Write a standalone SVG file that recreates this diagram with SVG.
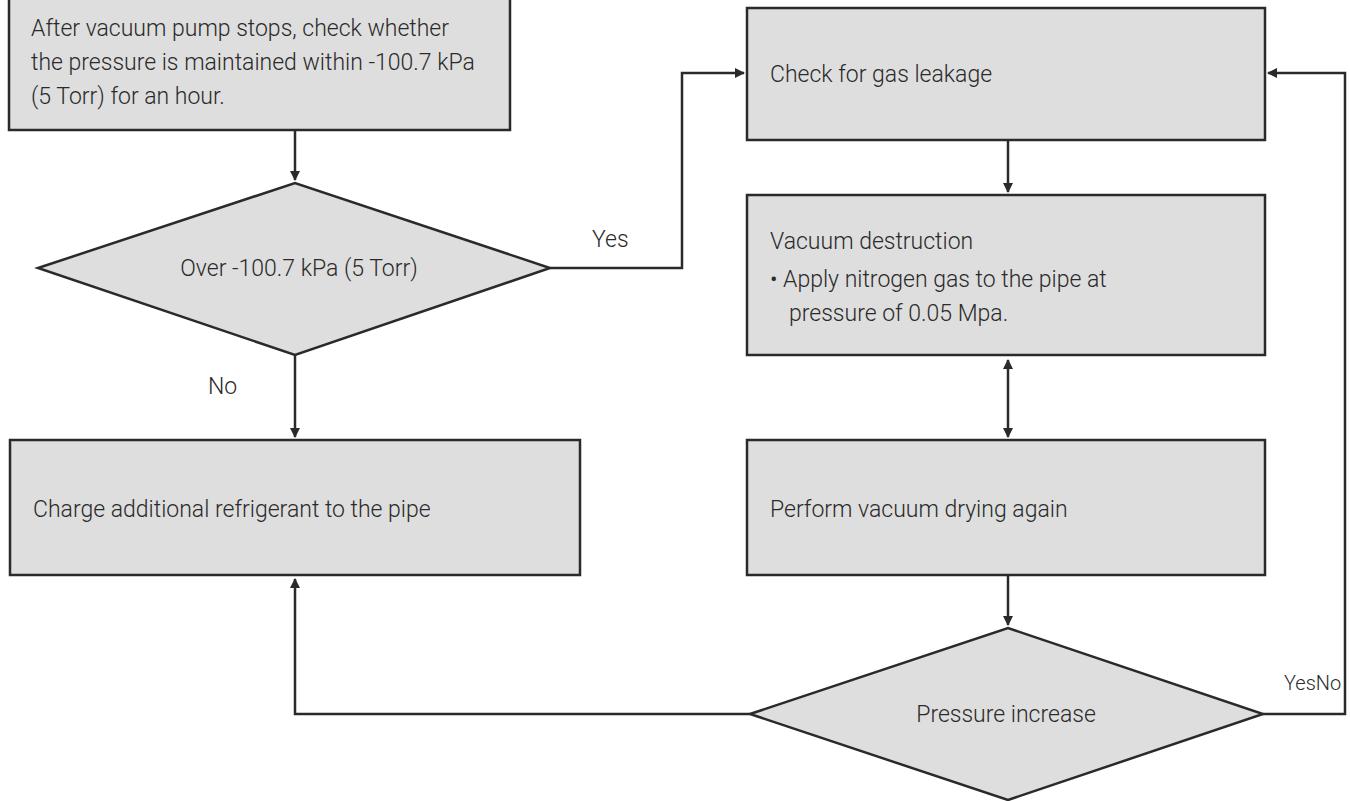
<svg xmlns="http://www.w3.org/2000/svg" width="1350" height="801" viewBox="0 0 1350 801">
<style>
.n{fill:#dedede;stroke:#2a2a2a;stroke-width:2.5}
.t{font-family:Roboto,"Liberation Sans",sans-serif;font-weight:300;font-size:23px;fill:#2a2a2a}
.c{fill:none;stroke:#2a2a2a;stroke-width:2.5}
</style>
<defs>
<marker id="a" markerWidth="10" markerHeight="10" refX="9" refY="5" orient="auto-start-reverse" markerUnits="userSpaceOnUse" viewBox="0 0 10 10"><path d="M0,0L10,5L0,10z" fill="#2a2a2a"/></marker>
</defs>
<rect width="1350" height="801" fill="#fff"/>
<g id="connectors">
<path class="c" d="M295,130V180" marker-end="url(#a)"/>
<path class="c" d="M295,355V437" marker-end="url(#a)"/>
<path class="c" d="M550,268H682V73H744" marker-end="url(#a)"/>
<path class="c" d="M1008,140V192" marker-end="url(#a)"/>
<path class="c" d="M1008,360V437" marker-start="url(#a)" marker-end="url(#a)"/>
<path class="c" d="M1008,575V625" marker-end="url(#a)"/>
<path class="c" d="M750,714H295V579" marker-end="url(#a)"/>
<path class="c" d="M1263,714H1345V73H1268" marker-end="url(#a)"/>
<text class="t" x="592" y="247">Yes</text>
<text class="t" x="208" y="394">No</text>
<text class="t" x="1284" y="690" style="font-size:20px">YesNo</text>
</g>
<g id="start"><rect class="n" x="9" y="-5" width="501" height="135"/>
<text class="t" x="31" y="36">After vacuum pump stops, check whether</text>
<text class="t" x="31" y="70">the pressure is maintained within -100.7 kPa</text>
<text class="t" x="31" y="104">(5 Torr) for an hour.</text></g>
<g id="d1"><polygon class="n" points="38,268 295,183 550,268 295,355"/>
<text class="t" x="299" y="276" text-anchor="middle">Over -100.7 kPa (5 Torr)</text></g>
<g id="charge"><rect class="n" x="10" y="440" width="570" height="135"/>
<text class="t" x="33" y="517">Charge additional refrigerant to the pipe</text></g>
<g id="leak"><rect class="n" x="747" y="8" width="518" height="132"/>
<text class="t" x="770" y="82">Check for gas leakage</text></g>
<g id="destruct"><rect class="n" x="747" y="195" width="518" height="160"/>
<text class="t" x="770" y="249">Vacuum destruction</text>
<text class="t" x="770" y="287">• Apply nitrogen gas to the pipe at</text>
<text class="t" x="789" y="321">pressure of 0.05 Mpa.</text></g>
<g id="dry"><rect class="n" x="747" y="440" width="518" height="135"/>
<text class="t" x="770" y="517">Perform vacuum drying again</text></g>
<g id="d2"><polygon class="n" points="750,714 1008,628 1263,714 1008,800"/>
<text class="t" x="1006" y="722" text-anchor="middle">Pressure increase</text></g>
</svg>
